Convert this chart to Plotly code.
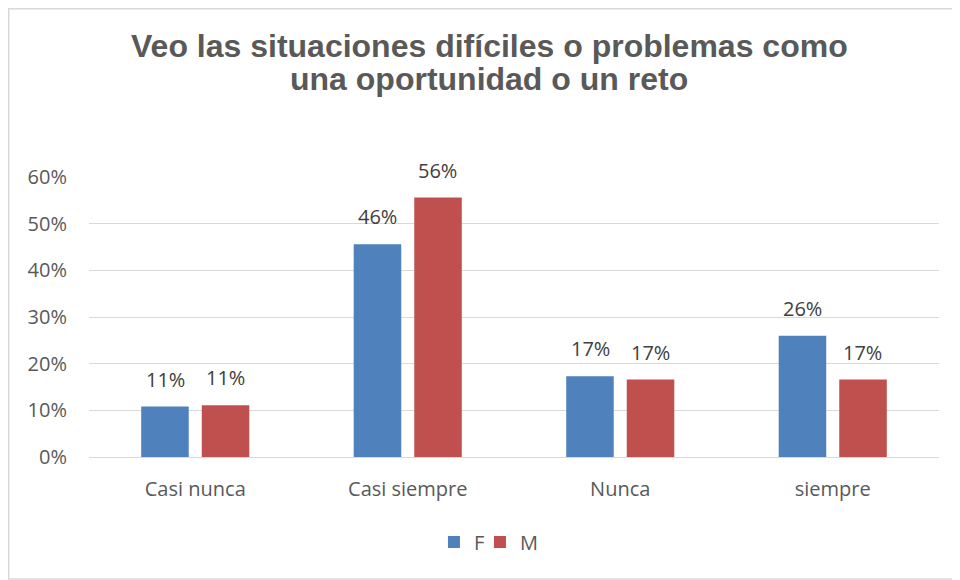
import plotly.graph_objects as go

categories = ["Casi nunca", "Casi siempre", "Nunca", "siempre"]
f_values = [0.108, 0.456, 0.173, 0.260]
m_values = [0.111, 0.556, 0.166, 0.166]
series_names = ["F", "M"]
series_colors = ["#4F81BD", "#C0504D"]
y_ticks = [0, 0.1, 0.2, 0.3, 0.4, 0.5, 0.6]
y_tick_labels = ["0%", "10%", "20%", "30%", "40%", "50%", "60%"]
title_lines = ["Veo las situaciones difíciles o problemas como",
               "una oportunidad o un reto"]

FONT = "Open Sans"
GRAY = "#595959"

# figure is drawn inside the page's 8px body margin
W, H = 952, 572
ML, MR, MT, MB = 81, 21, 169, 123
PW = W - ML - MR
PH = H - MT - MB

fig = go.Figure()
for name, vals, col in zip(series_names, [f_values, m_values], series_colors):
    fig.add_trace(go.Bar(
        x=categories, y=vals, name=name,
        marker=dict(color=col, line=dict(width=0)),
    ))
# empty spacer legend entry so the last label of the compact legend is not clipped
fig.add_trace(go.Scatter(x=[None], y=[None], name="", mode="markers", showlegend=True,
                         marker=dict(color="rgba(0,0,0,0)", size=1), hoverinfo="skip"))

annotations = []
# data labels
for i, vals in enumerate([f_values, m_values]):
    shift = -30 if i == 0 else 30
    for c, v in zip(categories, vals):
        annotations.append(dict(
            x=c, y=v, xref="x", yref="y", text=f"{round(v*100):d}%",
            showarrow=False, xshift=shift, yshift=12, yanchor="bottom",
            font=dict(family=FONT, size=20, color="#404040"),
        ))
# title lines
for line, cy in zip(title_lines, [38, 71]):
    annotations.append(dict(
        x=(481 - ML) / PW, y=(H - MB - cy) / PH, xref="paper", yref="paper",
        text=f"<b>{line}</b>", showarrow=False, xanchor="center", yanchor="middle",
        font=dict(family="Liberation Sans", size=32, color=GRAY),
    ))

fig.update_layout(
    width=W, height=H,
    margin=dict(l=ML, r=MR, t=MT, b=MB),
    paper_bgcolor="white", plot_bgcolor="white",
    barmode="group", bargap=0.43, bargroupgap=0.215,
    font=dict(family=FONT, size=20, color=GRAY),
    showlegend=True,
    legend=dict(orientation="h", x=0.487, xanchor="center",
                y=(H - MB - 534) / PH, yanchor="middle",
                font=dict(family=FONT, size=20, color=GRAY), itemwidth=30,
                entrywidth=1, entrywidthmode="pixels",
                traceorder="normal", itemclick=False, itemdoubleclick=False),
    annotations=annotations,
    shapes=[dict(type="rect", xref="paper", yref="paper",
                 x0=(0.75 - ML) / PW, x1=(W + 5 - ML) / PW,
                 y0=(H - MB - 571) / PH, y1=(H - MB - 0.75) / PH,
                 line=dict(color="#D9D9D9", width=1.5), fillcolor="rgba(0,0,0,0)",
                 layer="below")],
)
fig.update_yaxes(range=[0, 0.6], tickvals=y_ticks, ticktext=y_tick_labels,
                 showgrid=True, gridcolor="#D9D9D9", gridwidth=1,
                 zeroline=False, showline=False, ticks="",
                 ticklabelstandoff=21, tickfont=dict(family=FONT, size=20, color=GRAY))
fig.update_xaxes(showline=True, linecolor="#D9D9D9", linewidth=1, ticks="",
                 ticklabelstandoff=14, tickfont=dict(family=FONT, size=20, color=GRAY))

fig.write_html("out.html")
